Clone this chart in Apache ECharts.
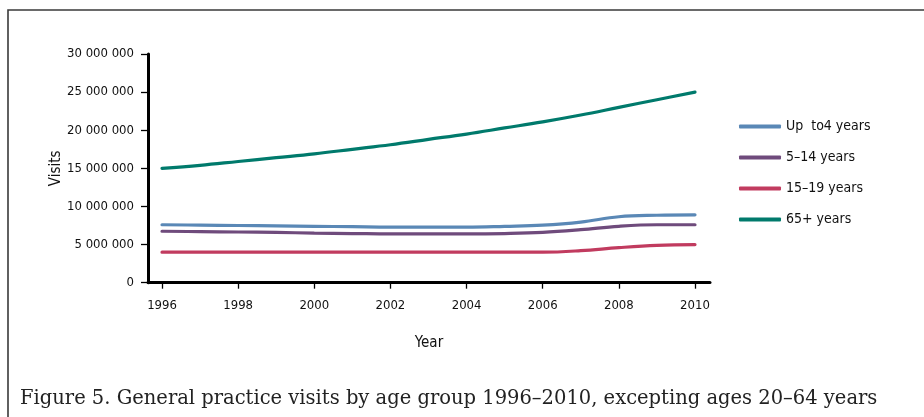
<!DOCTYPE html>
<html>
<head>
<meta charset="utf-8">
<script src="https://cdn.jsdelivr.net/npm/echarts@6/dist/echarts.min.js"></script>
<style>
html,body{margin:0;padding:0;background:#fff;}
#main{width:924px;height:417px;}
</style>
</head>
<body>
<div id="main"></div>
<script>
const years = [1996,1997,1998,1999,2000,2001,2002,2003,2004,2005,2006,2007,2008,2009,2010];
const tickYears = [1996,1998,2000,2002,2004,2006,2008,2010];
const seriesNames = ['Up  to4 years','5–14 years','15–19 years','65+ years'];
const upTo4 = [7600000,7550000,7500000,7450000,7400000,7350000,7300000,7300000,7300000,7400000,7550000,7950000,8650000,8850000,8900000];
const age5to14 = [6750000,6700000,6650000,6600000,6500000,6450000,6400000,6400000,6400000,6450000,6600000,6950000,7400000,7600000,7600000];
const age15to19 = [4000000,4000000,4000000,4000000,4000000,4000000,4000000,4000000,4000000,4000000,4000000,4200000,4600000,4900000,5000000];
const age65plus = [15000000,15400000,15900000,16400000,16900000,17500000,18100000,18800000,19500000,20300000,21100000,22000000,23000000,24000000,25000000];
const yTicks = [0,5000000,10000000,15000000,20000000,25000000,30000000];
const colors = ['#5a88b6','#6f4b7c','#c13b5f','#007a6c'];
const caption = 'Figure 5. General practice visits by age group 1996–2010, excepting ages 20–64 years';

const cond = "'Liberation Sans Narrow','DejaVu Sans Condensed','Roboto',sans-serif";
const allData = [upTo4, age5to14, age15to19, age65plus];

function fmt(v){
  return String(Math.round(v)).replace(/\B(?=(\d{3})+(?!\d))/g,' ');
}

const chart = echarts.init(document.getElementById('main'), null, {renderer:'canvas'});
chart.setOption({
  backgroundColor:'#fff',
  animation:false,
  title:{
    text: caption,
    left: 15, top: 384,
    textStyle:{fontFamily:"'DejaVu Serif',serif", fontWeight:'normal', fontSize:19.5, color:'#222'}
  },
  graphic:[
    {type:'polyline', shape:{points:[[8,417],[8,10],[924,10]]}, style:{stroke:'#3a3a3a', lineWidth:1.6, fill:null}}
  ],
  legend:{
    orient:'vertical',
    left:734, top:113,
    itemWidth:42, itemHeight:4, itemGap:14,
    icon:'roundRect',
    textStyle:{fontFamily:cond, fontSize:14, color:'#111', lineHeight:17},
    data: seriesNames
  },
  grid:{left:148, right:214, top:54, bottom:134.3, containLabel:false},
  xAxis:{
    type:'value',
    min:1995.632, max:2010.394,
    name:'Year', nameLocation:'middle', nameGap:53,
    nameTextStyle:{fontFamily:cond, fontSize:15, color:'#111'},
    axisLine:{show:true, onZero:false, lineStyle:{color:'#000', width:3}},
    axisTick:{show:true, length:6, customValues:tickYears, lineStyle:{color:'#000', width:1.3}},
    axisLabel:{customValues:tickYears, fontFamily:cond, fontSize:13, color:'#111', margin:16, formatter:v=>String(v)},
    splitLine:{show:false}
  },
  yAxis:{
    type:'value',
    min:0, max:30000000, interval:5000000,
    name:'Visits', nameLocation:'middle', nameGap:84, nameRotate:90,
    nameMoveOverlap:false,
    nameTextStyle:{fontFamily:cond, fontSize:15, color:'#111'},
    axisLine:{show:true, lineStyle:{color:'#000', width:3}},
    axisTick:{show:true, length:7, lineStyle:{color:'#000', width:1.3}},
    axisLabel:{fontFamily:cond, fontSize:13, color:'#111', margin:14, formatter:v=>fmt(v)},
    splitLine:{show:false}
  },
  series: seriesNames.map((n,i)=>({
    name:n,
    type:'line',
    smooth:0.4,
    symbol:'none',
    color:colors[i],
    lineStyle:{width:3.2, color:colors[i], cap:'round'},
    itemStyle:{color:colors[i]},
    data: years.map((y,j)=>[y, allData[i][j]])
  }))
});
</script>
</body>
</html>
